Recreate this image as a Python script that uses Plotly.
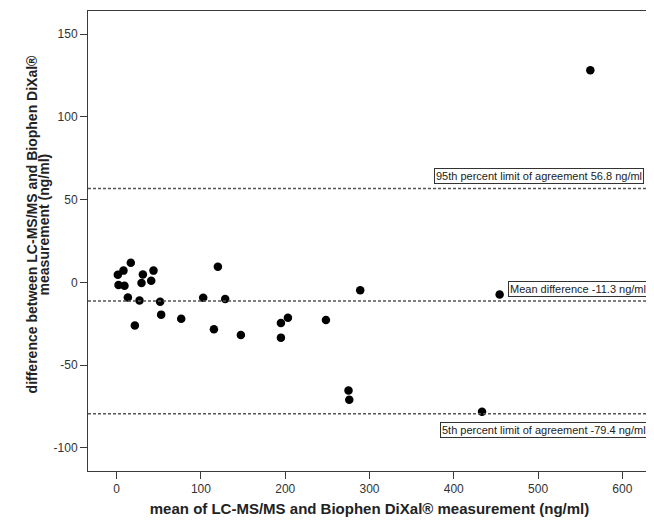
import plotly.graph_objects as go

# Bland-Altman data
mean_vals = [1.4, 8.1, 16.8, 2.2, 9.3, 31.1, 43.7, 29.5, 41.0, 13.3, 27.1, 51.6,
             21.6, 52.8, 76.6, 120.1, 102.7, 128.8, 115.4, 147.4, 194.9, 203.2,
             194.9, 248.3, 289.0, 275.1, 276.0, 433.5, 454.4, 562.0]
diff_vals = [4.6, 7.1, 11.9, -1.6, -2.0, 4.8, 7.1, -0.4, 1.0, -9.1, -10.9, -11.7,
             -26.0, -19.5, -22.0, 9.5, -9.3, -10.1, -28.4, -31.8, -24.6, -21.4,
             -33.4, -22.8, -4.8, -65.3, -70.9, -78.2, -7.4, 128.2]

limit_values = [56.8, -11.3, -79.4]
limit_labels = ["95th percent limit of agreement 56.8 ng/ml",
                "Mean difference -11.3 ng/ml",
                "5th percent limit of agreement -79.4 ng/ml"]

x_ticks = [0, 100, 200, 300, 400, 500, 600]
x_tick_labels = ["0", "100", "200", "300", "400", "500", "600"]
y_ticks = [-100, -50, 0, 50, 100, 150]
y_tick_labels = ["-100", "-50", "0", "50", "100", "150"]

x_title = "mean of LC-MS/MS and Biophen DiXal® measurement (ng/ml)"
y_title_lines = ["difference between LC-MS/MS and Biophen DiXal®",
                 "measurement (ng/ml)"]

FONT = "Liberation Sans, Arial, sans-serif"
AXC = "#3a3a3a"

fig = go.Figure()
fig.add_trace(go.Scatter(
    x=mean_vals, y=diff_vals, mode="markers",
    marker=dict(color="black", size=8.5, line=dict(width=0)),
    showlegend=False, hoverinfo="x+y"))

for v in limit_values:
    fig.add_shape(type="line", xref="paper", yref="y", x0=0, x1=1, y0=v, y1=v,
                  line=dict(color="#555555", width=1.5, dash="3px,2px"))

# annotation boxes
ann_x = [0.987, 0.994, 0.994]
ann_anchor = ["bottom", "bottom", "top"]
ann_shift = [4, 4, -8]
for lab, v, ax, anc, sh in zip(limit_labels, limit_values, ann_x, ann_anchor, ann_shift):
    fig.add_annotation(text=lab, xref="paper", yref="y", x=ax, y=v,
                       xanchor="right", yanchor=anc, yshift=sh, showarrow=False,
                       font=dict(family=FONT, size=11, color="#222222"),
                       bordercolor="#333333", borderwidth=1, borderpad=1,
                       bgcolor="white")

# y-axis title (two lines)
for i, line in enumerate(y_title_lines):
    fig.add_annotation(text="<b>%s</b>" % line, xref="paper", yref="paper",
                       x=0, xanchor="center", xshift=(31.5 + 12 * i) - 88,
                       y=0.535, yanchor="middle", textangle=-90, showarrow=False,
                       font=dict(family=FONT, size=14, color="#222222"))

# the page body adds an 8px offset; the figure is sized to fill the rest
fig.update_layout(
    width=646, height=512,
    margin=dict(l=80, r=3, t=3, b=49, pad=0),
    paper_bgcolor="white", plot_bgcolor="white",
    font=dict(family=FONT, size=12, color="#333333"),
    xaxis=dict(range=[-34, 634], tickvals=x_ticks, ticktext=x_tick_labels,
               ticks="outside", ticklen=7,
               tickcolor=AXC, tickwidth=1, showline=True, linecolor=AXC, linewidth=1,
               mirror=True, showgrid=False, zeroline=False,
               tickfont=dict(family=FONT, size=12, color="#333333"),
               title=dict(text="<b>%s</b>" % x_title, standoff=8,
                          font=dict(family=FONT, size=15, color="#222222"))),
    yaxis=dict(range=[-114, 164], tickvals=y_ticks, ticktext=y_tick_labels,
               ticks="outside", ticklen=7,
               tickcolor=AXC, tickwidth=1, showline=True, linecolor=AXC, linewidth=1,
               mirror=True, showgrid=False, zeroline=False,
               tickfont=dict(family=FONT, size=12, color="#333333")),
)

fig.write_html("out.html")
